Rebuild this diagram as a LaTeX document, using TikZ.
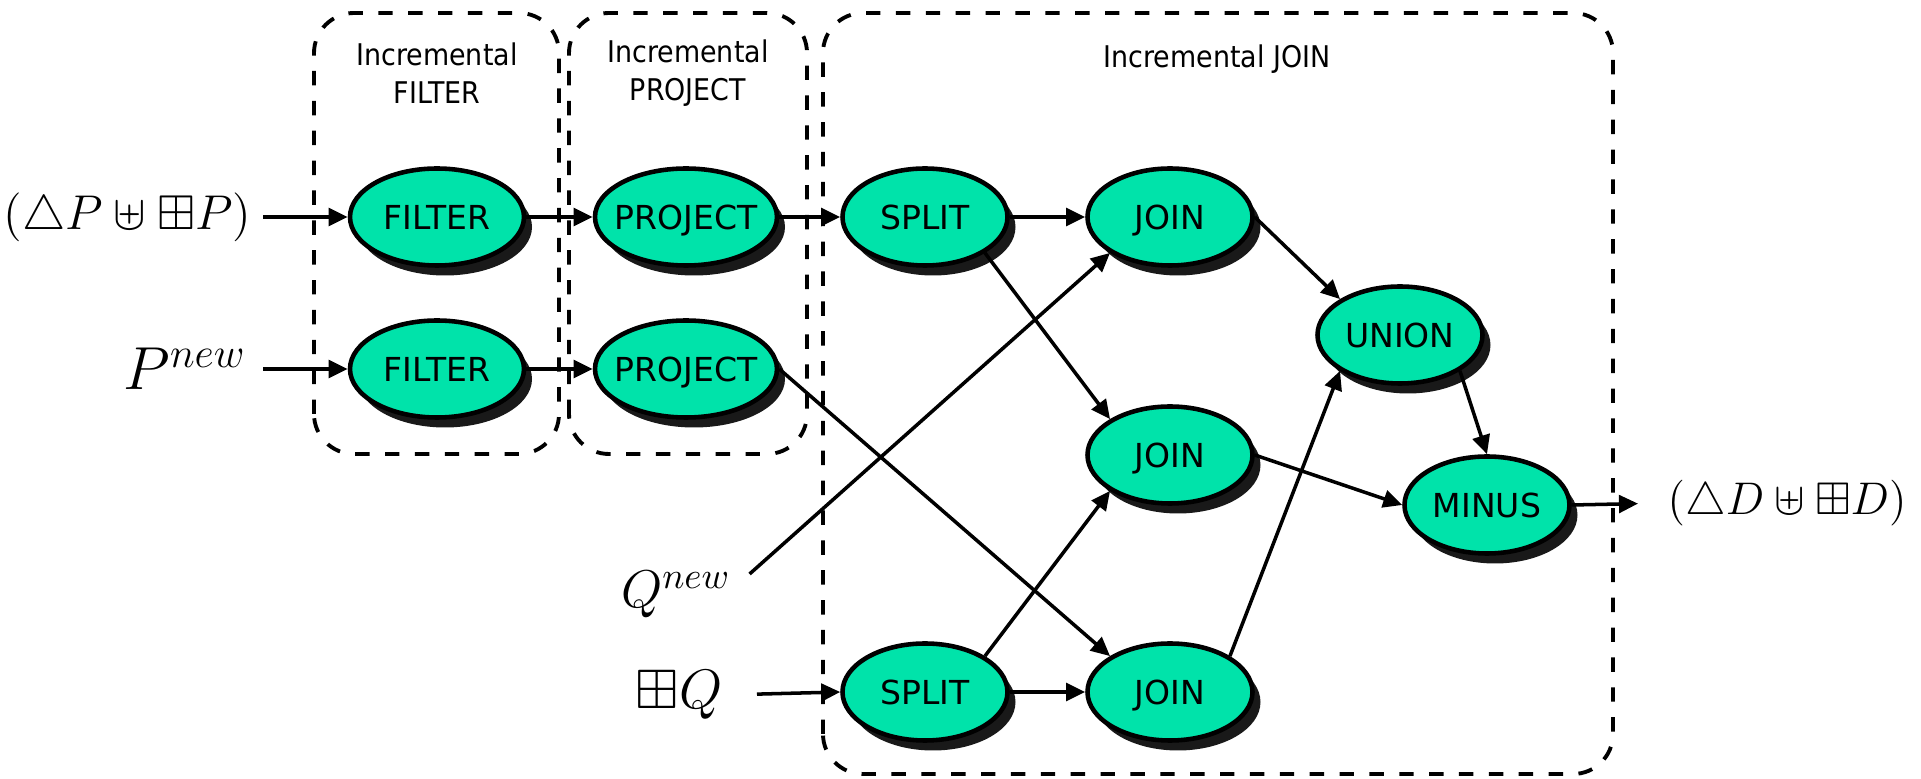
\documentclass[tikz,border=0pt]{standalone}
\usepackage{amssymb}
\usepackage{fontspec}
\newfontfamily\opfont{DejaVu Sans}
\newfontfamily\ttlfont[FakeStretch=0.9]{DejaVu Sans}
\usetikzlibrary{shapes.geometric,shadows,arrows.meta}
\definecolor{opgreen}{RGB}{0,227,170}

\begin{document}
\begin{tikzpicture}[
		op/.style={ellipse,draw,line width=1.3pt,fill=opgreen,inner ysep=0pt,inner xsep=-1mm,
			minimum width=1.65cm,minimum height=0.97cm,text height=6.85pt,text depth=0pt,
			font=\opfont\fontsize{9.4}{11}\selectfont,
			drop shadow={shadow xshift=0.08cm,shadow yshift=-0.1cm,fill=black!90,opacity=1}},
		grp/.style={draw,dash pattern=on 4.1pt off 4.4pt,line width=1.1pt,rounded corners=0.4cm},
		ttl/.style={font=\ttlfont\fontsize{8.5}{10.8}\selectfont,align=center},
		lbl/.style={inner sep=0pt},
		arr/.style={-{Triangle[length=5.4pt,width=5pt]},line width=1pt}]
	\useasboundingbox (0,0) rectangle (19.21,7.79);
	% dashed groups
	\draw[grp] (3.14,3.25) rectangle (5.59,7.66);
	\draw[grp] (5.69,3.25) rectangle (8.07,7.66);
	\draw[grp] (8.23,0.05) rectangle (16.13,7.66);
	\node[ttl] (tf) at (4.37,7.06) {Incremental\\FILTER};
	\node[ttl] (tp) at (6.88,7.06) {Incremental\\PROJECT};
	\node[ttl] (tj) at (12.17,7.20) {Incremental JOIN};
	% operators
	\node[op,minimum width=1.74cm] (f1) at (4.37,5.62) {FILTER};
	\node[op,minimum width=1.74cm] (f2) at (4.37,4.10) {FILTER};
	\node[op,minimum width=1.82cm] (p1) at (6.86,5.62) {PROJECT};
	\node[op,minimum width=1.82cm] (p2) at (6.86,4.10) {PROJECT};
	\node[op] (s1) at (9.25,5.62) {SPLIT};
	\node[op] (s2) at (9.25,0.87) {SPLIT};
	\node[op] (j1) at (11.70,5.62) {JOIN};
	\node[op] (j2) at (11.70,3.24) {JOIN};
	\node[op] (j3) at (11.70,0.87) {JOIN};
	\node[op] (un) at (14.00,4.44) {UNION};
	\node[op] (mi) at (14.87,2.74) {MINUS};
	% inputs and output
	\node[lbl,anchor=east,font=\fontsize{14.4}{17}\selectfont] (dp) at (2.52,5.62) {\scalebox{0.965}{$(\triangle P\uplus\boxplus P)$}};
	\node[lbl,anchor=east,font=\fontsize{17.28}{20}\selectfont] (pn) at (2.47,4.10) {$P^{new}$};
	\node[lbl,font=\fontsize{14.4}{17}\selectfont] (qn) at (6.76,1.84) {\scalebox{1.05}{$Q^{new}$}};
	\node[lbl,anchor=east,font=\fontsize{14.4}{17}\selectfont] (bq) at (7.23,0.84) {\scalebox{1.1}{$\boxplus Q$}};
	\node[lbl,anchor=west,font=\fontsize{12}{15}\selectfont] (dd) at (16.67,2.76) {\scalebox{1.085}{$(\triangle D\uplus\boxplus D)$}};
	% flow
	\draw[arr,shorten <=1.1mm] (dp.east) -- (f1.west);
	\draw[arr,shorten <=1.6mm] (pn.east) -- (f2.west);
	\draw[arr] (f1) -- (p1);
	\draw[arr] (f2) -- (p2);
	\draw[arr] (p1) -- (s1);
	\draw[arr] (s1) -- (j1);
	\draw[arr] (p2.east) -- (j3.north west);
	\draw[arr] ([shift={(0.18,-0.03)}]qn.north east) -- (j1.south west);
	\draw[arr,shorten <=3.4mm] (bq.east) -- (s2.west);
	\draw[arr] (s2) -- (j3);
	\draw[arr] (s2.north east) -- (j2.south west);
	\draw[arr] (s1.south east) -- (j2.north west);
	\draw[arr] (j1.east) -- (un.north west);
	\draw[arr] (j3.north east) -- (un.south west);
	\draw[arr] (j2.east) -- (mi.west);
	\draw[arr] (un.south east) -- (mi.north);
	\draw[arr,shorten >=2.9mm] (mi.east) -- (dd.west);
\end{tikzpicture}
\end{document}
